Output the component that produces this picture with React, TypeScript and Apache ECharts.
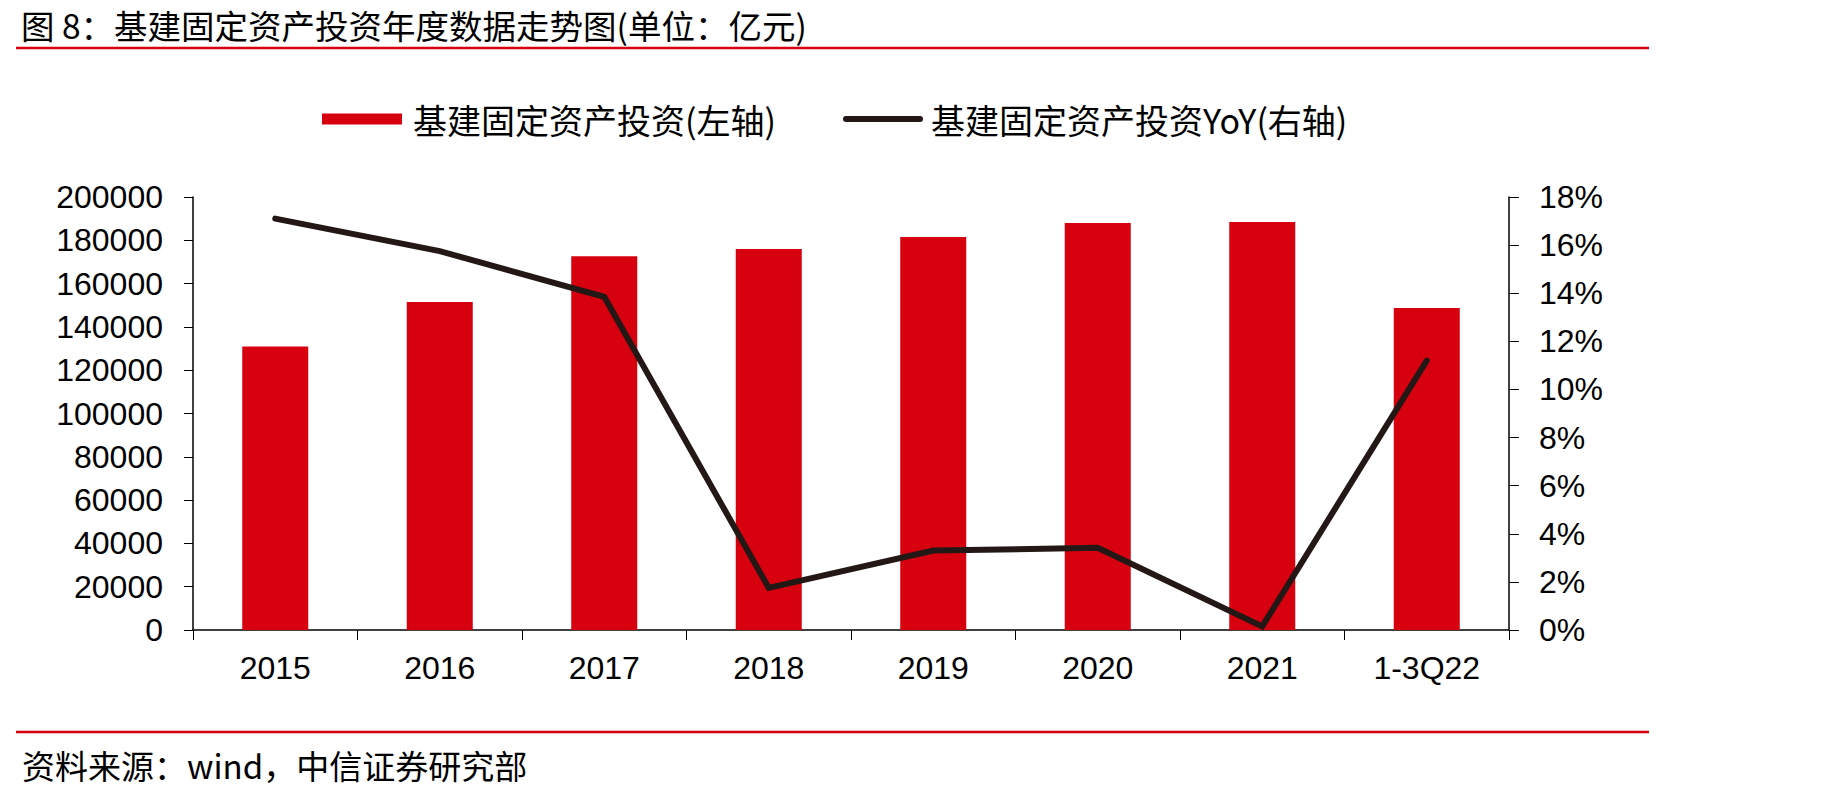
import React, { useEffect, useRef } from "react";
import * as echarts from "echarts";

const categories = ["2015", "2016", "2017", "2018", "2019", "2020", "2021", "1-3Q22"];
const investment = [131000, 151500, 172600, 176000, 181500, 188000, 188500, 148700];
const yoy = [17.1, 15.75, 13.85, 1.75, 3.3, 3.42, 0.15, 11.2];
const leftTicks = { min: 0, max: 200000, interval: 20000 };
const rightTicks = { min: 0, max: 18, interval: 2 };

const barName = "基建固定资产投资(左轴)";
const lineName = "基建固定资产投资YoY(右轴)";
const titleText = "图 8：基建固定资产投资年度数据走势图(单位：亿元)";
const sourceText = "资料来源：wind，中信证券研究部";

const RED = "#D7000F";
const DARK = "#231815";
const CJK = "'Noto Sans CJK SC', sans-serif";
const LATIN = "'Liberation Sans', Arial, sans-serif";

export default function App() {
  const ref = useRef<HTMLDivElement>(null);
  useEffect(() => {
    if (!ref.current) return;
    const chart = echarts.init(ref.current, null, { renderer: "svg" });
    chart.setOption({
      animation: false,
      backgroundColor: "#fff",
      title: {
        text: titleText,
        left: 21,
        top: 8,
        padding: 0,
        textStyle: { fontSize: 33.5, fontWeight: "normal", fontFamily: CJK, color: "#000" },
      },
      legend: [
        {
          data: [{ name: barName, icon: "rect" }],
          left: 322,
          top: 102,
          padding: 0,
          itemWidth: 80,
          itemHeight: 11,
          textStyle: { fontSize: 34, fontFamily: CJK, color: "#000", padding: [0, 0, 0, 6] },
        },
        {
          data: [{ name: lineName, icon: "path://M3 0 L77 0 A3 3 0 0 1 77 6 L3 6 A3 3 0 0 1 3 0 Z" }],
          left: 843,
          top: 102,
          padding: 0,
          itemWidth: 80,
          itemHeight: 6,
          itemStyle: { borderWidth: 0 },
          textStyle: { fontSize: 34, fontFamily: CJK, color: "#000", padding: [0, 0, 0, 3] },
        },
      ],
      grid: { left: 193, right: 321, top: 197, bottom: 167, containLabel: false },
      xAxis: {
        type: "category",
        data: categories,
        axisLine: { lineStyle: { color: "#000", width: 1.5 } },
        axisTick: { show: true, length: 10, lineStyle: { color: "#000", width: 1 } },
        axisLabel: { fontSize: 32, fontFamily: LATIN, color: "#000", margin: 22 },
      },
      yAxis: [
        {
          type: "value",
          ...leftTicks,
          position: "left",
          axisLine: { show: true, lineStyle: { color: "#000", width: 1.5 } },
          axisTick: { show: true, length: 9, lineStyle: { color: "#000", width: 1 } },
          splitLine: { show: false },
          axisLabel: {
            fontSize: 32,
            fontFamily: LATIN,
            color: "#000",
            margin: 30,
            formatter: (v: number) => String(v),
          },
        },
        {
          type: "value",
          ...rightTicks,
          position: "right",
          axisLine: { show: true, lineStyle: { color: "#000", width: 1.5 } },
          axisTick: { show: true, length: 10, lineStyle: { color: "#000", width: 1 } },
          splitLine: { show: false },
          axisLabel: {
            fontSize: 32,
            fontFamily: LATIN,
            color: "#000",
            margin: 30,
            formatter: "{value}%",
          },
        },
      ],
      series: [
        {
          name: barName,
          type: "bar",
          data: investment,
          yAxisIndex: 0,
          barWidth: 66,
          itemStyle: { color: RED },
        },
        {
          name: lineName,
          type: "line",
          data: yoy,
          yAxisIndex: 1,
          symbol: "none",
          itemStyle: { color: DARK },
          lineStyle: { color: DARK, width: 6, cap: "round", join: "miter" },
        },
      ],
      graphic: [
        {
          type: "line",
          shape: { x1: 16, y1: 48, x2: 1649, y2: 48 },
          style: { stroke: RED, lineWidth: 2.5 },
        },
        {
          type: "line",
          shape: { x1: 16, y1: 732, x2: 1649, y2: 732 },
          style: { stroke: RED, lineWidth: 2.5 },
        },
        {
          type: "text",
          left: 22,
          top: 748,
          style: { text: sourceText, fontSize: 33, fontFamily: CJK, fill: "#000" },
        },
      ],
    });
    return () => chart.dispose();
  }, []);
  return (
    <div
      ref={ref}
      style={{ position: "absolute", left: 0, top: 0, width: 1830, height: 797 }}
    />
  );
}
